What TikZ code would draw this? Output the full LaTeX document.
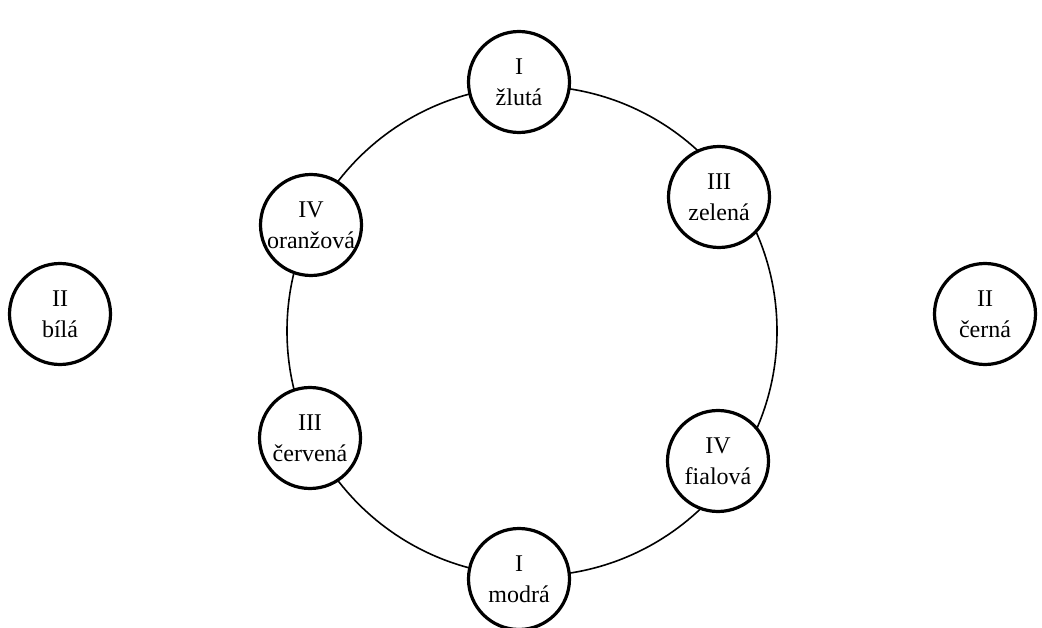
\documentclass[tikz,border=0pt]{standalone}
\usepackage{fontspec}
\setmainfont{Liberation Serif}
\usetikzlibrary{positioning}

\begin{document}
\begin{tikzpicture}[x=1pt,y=-1pt]
\tikzstyle{colour} = [circle, draw, line width=3.2pt, fill=white, minimum size=101pt, inner sep=0pt, align=center, font=\fontsize{24}{31}\selectfont]
\useasboundingbox (0,0) rectangle (1042,628);

% Ring
\coordinate (centre) at (532,331);
\draw[line width=1.6pt] (centre) circle [radius=245pt];

\node (zluta) [colour] at (519,82) {I\\žlutá};
\node (zelena) [colour] at (719,197) {III\\zelená};
\node (fialova) [colour] at (718,461) {IV\\fialová};
\node (modra) [colour] at (519,579) {I\\modrá};
\node (cervena) [colour] at (310,438) {III\\červená};
\node (oranzova) [colour] at (311,225) {IV\\oranžová};

% Outside the ring
\node (bila) [colour] at (60,314) {II\\bílá};
\node (cerna) [colour] at (985,314) {II\\černá};

\end{tikzpicture}
\end{document}
